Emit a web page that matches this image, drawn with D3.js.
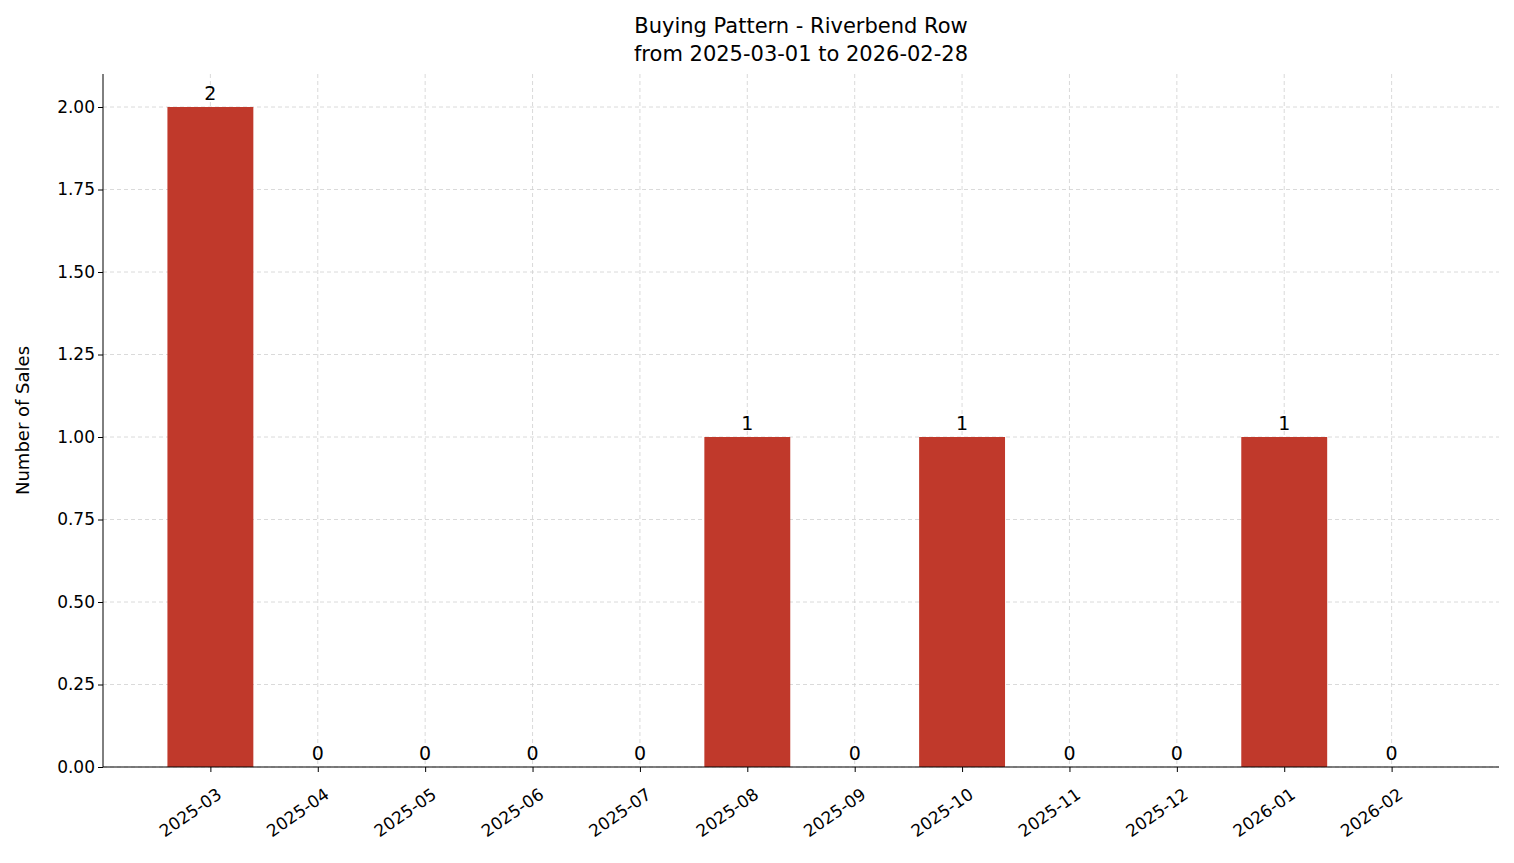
<!DOCTYPE html>
<html><head><meta charset="utf-8">
<script src="https://cdn.jsdelivr.net/npm/d3@7"></script>
<style>body{margin:0;background:#fff}text{font-family:"DejaVu Sans",sans-serif}</style>
</head><body>
<svg width="1514" height="863"></svg>
<script>
var months = ["2025-03","2025-04","2025-05","2025-06","2025-07","2025-08","2025-09","2025-10","2025-11","2025-12","2026-01","2026-02"];
var sales = [2,0,0,0,0,1,0,1,0,0,1,0];
var yTicks = [0,0.25,0.5,0.75,1,1.25,1.5,1.75,2];

var svg = d3.select("svg"),
    pLeft = 103, pRight = 1499, pTop = 74, pBottom = 767;

var x = d3.scaleLinear().domain([-1, 12]).range([pLeft, pRight]);
var y = d3.scaleLinear().domain([0, 2.1]).range([pBottom, pTop]);
var bw = x(0.8) - x(0);

// grid
var grid = svg.append("g").attr("stroke", "#d0d0d0").attr("stroke-dasharray", "4,3").attr("stroke-width", 0.8);
months.forEach(function(m, i) {
    grid.append("line").attr("x1", x(i)).attr("x2", x(i)).attr("y1", pTop).attr("y2", pBottom);
});
yTicks.forEach(function(t) {
    grid.append("line").attr("x1", pLeft).attr("x2", pRight).attr("y1", y(t)).attr("y2", y(t));
});

// bars
svg.append("g").selectAll("rect").data(sales).enter().append("rect")
    .attr("x", function(d, i) { return x(i) - bw / 2; })
    .attr("y", function(d) { return y(d); })
    .attr("width", bw)
    .attr("height", function(d) { return pBottom - y(d); })
    .attr("fill", "#c0392b");

svg.append("g").selectAll("text").data(sales).enter().append("text")
    .attr("x", function(d, i) { return x(i); })
    .attr("y", function(d) { return y(d) - 7; })
    .attr("text-anchor", "middle").attr("font-size", 19)
    .text(function(d) { return d; });

// axes
var yAxis = svg.append("g").attr("transform", "translate(" + pLeft + ",0)")
    .call(d3.axisLeft(y).tickValues(yTicks).tickFormat(d3.format(".2f")).tickSize(5));
var xAxis = svg.append("g").attr("transform", "translate(0," + pBottom + ")")
    .call(d3.axisBottom(x).tickValues(d3.range(months.length)).tickFormat(function(i) { return months[i]; }).tickSize(5));
[xAxis, yAxis].forEach(function(a) {
    a.selectAll("text").attr("font-size", 17).attr("fill", "#000");
    a.selectAll("line,path").attr("stroke", "#000");
});
xAxis.select(".domain").attr("d", "M" + pLeft + ",0H" + pRight);
yAxis.select(".domain").attr("d", "M0," + pBottom + "V" + pTop);
xAxis.selectAll("text").attr("text-anchor", "end").attr("dy", 0).attr("y", 0)
    .attr("transform", "translate(12,30) rotate(-35)");

svg.append("text").attr("transform", "translate(29," + (pTop + pBottom) / 2 + ") rotate(-90)")
    .attr("text-anchor", "middle").attr("font-size", 18).text("Number of Sales");
svg.append("text").attr("x", (pLeft + pRight) / 2).attr("y", 33).attr("text-anchor", "middle").attr("font-size", 21).text("Buying Pattern - Riverbend Row");
svg.append("text").attr("x", (pLeft + pRight) / 2).attr("y", 61).attr("text-anchor", "middle").attr("font-size", 21).text("from 2025-03-01 to 2026-02-28");
</script>
</body></html>
